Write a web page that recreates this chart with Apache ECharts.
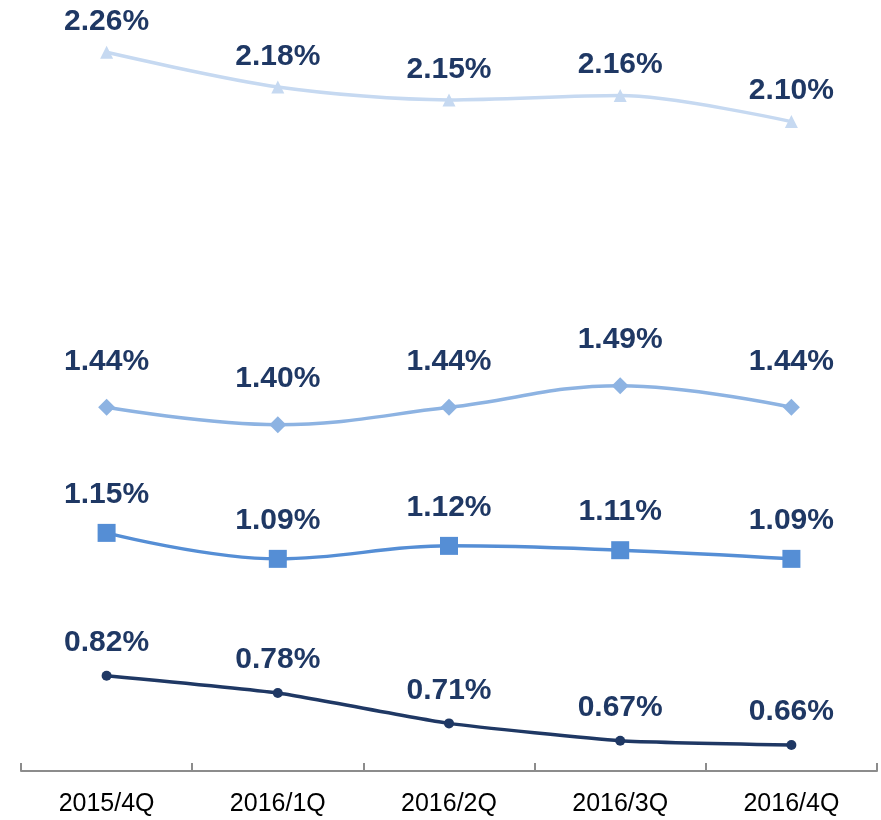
<!DOCTYPE html>
<html>
<head>
<meta charset="utf-8">
<script src="https://cdn.jsdelivr.net/npm/echarts@6/dist/echarts.min.js"></script>
<style>
  html, body { margin: 0; padding: 0; background: #fff; }
  #chart { width: 881px; height: 820px; }
</style>
</head>
<body>
<div id="chart"></div>
<script>
var categories = ['2015/4Q', '2016/1Q', '2016/2Q', '2016/3Q', '2016/4Q']
var triangleValues = [2.26, 2.18, 2.15, 2.16, 2.10]
var diamondValues = [1.44, 1.40, 1.44, 1.49, 1.44]
var squareValues = [1.15, 1.09, 1.12, 1.11, 1.09]
var circleValues = [0.82, 0.78, 0.71, 0.67, 0.66]

var labelStyle = function (dist) {
    return {
        show: true,
        position: 'top',
        distance: dist,
        color: '#1f3864',
        fontSize: 30,
        fontWeight: 'bold',
        fontFamily: 'Liberation Sans, Arial, sans-serif',
        formatter: function (p) { return p.value.toFixed(2) + '%' }
    }
}

var makeSeries = function (name, data, color, symbol, size, dist, smooth) {
    return {
        name: name,
        type: 'line',
        data: data,
        smooth: smooth,
        symbol: symbol,
        symbolSize: size,
        lineStyle: { color: color, width: 3.5 },
        itemStyle: { color: color },
        label: labelStyle(dist)
    }
}

var Chart = echarts.init(document.getElementById('chart'))
var option = {
    animation: false,
    grid: {
        left: 21,
        right: 4,
        top: 35,
        bottom: 49
    },
    xAxis: {
        type: 'category',
        data: categories,
        boundaryGap: true,
        axisLine: { lineStyle: { color: '#8c8c8c', width: 2 } },
        axisTick: { show: true, inside: true, length: 8, interval: 0, lineStyle: { color: '#8c8c8c', width: 2 } },
        axisLabel: {
            color: '#000',
            fontSize: 25,
            fontFamily: 'Liberation Sans, Arial, sans-serif',
            margin: 21
        }
    },
    yAxis: {
        type: 'value',
        min: 0.6,
        max: 2.3,
        show: false,
        splitLine: { show: false }
    },
    series: [
        makeSeries('triangle', triangleValues, '#c6d9f1', 'triangle', 13, 9, 0.3),
        makeSeries('diamond', diamondValues, '#8db3e2', 'diamond', 17, 22, 0.4),
        makeSeries('square', squareValues, '#558ed5', 'rect', 18, 14, 0.4),
        makeSeries('circle', circleValues, '#1f3864', 'circle', 10, 13, 0.15)
    ]
}
Chart.setOption(option)
</script>
</body>
</html>
